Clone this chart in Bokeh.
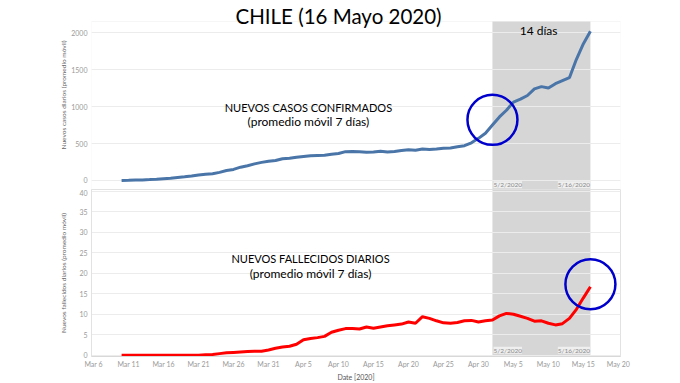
import pandas as pd
from bokeh.plotting import figure
from bokeh.models import Range1d, FixedTicker, BoxAnnotation, Label
from bokeh.layouts import column
from bokeh.embed import file_html
from bokeh.resources import INLINE

# ---------------- data ----------------
first_date = "2020-03-10"
last_date = "2020-05-16"
dates = pd.date_range(first_date, last_date, freq="D")

cases = [0, 2, 5, 8, 12, 18, 25, 30, 40, 50,
         62, 75, 85, 92, 110, 135, 150, 180, 200, 225,
         245, 260, 270, 295, 300, 315, 325, 335, 338, 340,
         355, 365, 390, 392, 388, 382, 385, 395, 385, 392,
         405, 415, 410, 425, 420, 425, 435, 440, 455, 470,
         510, 570, 640, 750, 860, 950, 1060, 1100, 1150, 1240,
         1270, 1250, 1310, 1350, 1390, 1640, 1850, 2020]

deaths = [0, 0, 0, 0, 0, 0, 0, 0, 0, 0,
          0, 0, 0.1, 0.2, 0.4, 0.6, 0.7, 0.8, 0.9, 1.0,
          1.0, 1.3, 1.7, 2.0, 2.2, 2.7, 3.8, 4.1, 4.3, 4.6,
          5.6, 6.1, 6.5, 6.5, 6.4, 6.9, 6.6, 6.9, 7.2, 7.4,
          7.6, 8.1, 7.8, 9.4, 9.0, 8.4, 7.9, 7.8, 8.0, 8.4,
          8.5, 8.1, 8.4, 8.6, 9.6, 10.2, 10.0, 9.5, 9.0, 8.3,
          8.4, 7.8, 7.4, 7.7, 9.0, 11.2, 14.0, 16.7]

tick_labels = ["Mar 6", "Mar 11", "Mar 16", "Mar 21", "Mar 26", "Mar 31",
               "Apr 5", "Apr 10", "Apr 15", "Apr 20", "Apr 25", "Apr 30",
               "May 5", "May 10", "May 15", "May 20"]
tick_dates = pd.date_range("2020-03-06", "2020-05-20", freq="5D")

case_ticks = [0, 500, 1000, 1500, 2000]
death_ticks = [0, 5, 10, 15, 20, 25, 30, 35, 40]
case_panel = (-122, 2151)       # visible value span of the cases panel

window_start = "2020-05-02"
window_end = "2020-05-16"
window_labels = ["5/2/2020", "5/16/2020"]

circle_cases_date, circle_cases_value = ["2020-05-02"], [820]
circle_deaths_date, circle_deaths_value = ["2020-05-16"], [17.3]

origin = pd.Timestamp("2020-03-06")


def day(d):
    return float((pd.Timestamp(d) - origin).days)


x_days = [day(d) for d in dates]
tick_days = [int(day(d)) for d in tick_dates]

FONT = "Lato"
BLUE = "#4a75a8"
RED = "#ff0000"
CIRCLE = "#0000cc"
SHADE = "#d6d6d6"
GRID = "#ececec"
TICKC = "#9a9a9a"
EDGE = "#e2e2e2"

x_lo, x_hi = -0.3, 75.3
x_range = Range1d(x_lo, x_hi)


def style_y(p, ticks, label, label_standoff):
    ax = p.yaxis[0]
    ax.ticker = FixedTicker(ticks=ticks)
    ax.axis_label = label
    ax.axis_label_text_font = FONT
    ax.axis_label_text_font_size = "6.5px"
    ax.axis_label_text_font_style = "normal"
    ax.axis_label_text_color = "#666666"
    ax.axis_label_standoff = label_standoff
    ax.major_label_text_font = FONT
    ax.major_label_text_font_size = "7px"
    ax.major_label_text_color = TICKC
    ax.major_label_standoff = 4
    ax.major_tick_out = 0
    ax.major_tick_in = 0
    ax.minor_tick_out = 0
    ax.minor_tick_in = 0
    ax.axis_line_color = EDGE
    p.ygrid.ticker = FixedTicker(ticks=ticks)
    p.ygrid.grid_line_color = GRID
    p.ygrid.level = "underlay"
    p.outline_line_color = EDGE
    p.background_fill_color = "white"


def text(p, x, y, t, size, color="black", align="center", font=FONT):
    p.add_layout(Label(x=x, y=y, text=t, text_align=align, text_baseline="middle",
                       text_font=font, text_font_size=size, text_color=color,
                       level="overlay"))


# ---------------- top panel (frame reaches the top so the title sits inside) ----------------
p1 = figure(width=680, height=189, x_range=x_range, y_range=Range1d(-122, 2435),
            output_backend="svg", toolbar_location=None, x_axis_location=None,
            title=None,
            min_border_left=91, min_border_right=60, min_border_top=0,
            min_border_bottom=0)
style_y(p1, case_ticks, "Nuevos casos diarios (promedio móvil)", 1)
p1.xgrid.visible = False
p1.outline_line_color = None
p1.yaxis[0].axis_line_color = None

p1.add_layout(BoxAnnotation(left=day(window_start), right=day(window_end),
                            bottom=case_panel[0], top=case_panel[1],
                            fill_color=SHADE, fill_alpha=1, line_color=None,
                            level="image"))
p1.add_layout(BoxAnnotation(left=x_lo, right=x_hi, bottom=case_panel[0], top=case_panel[1],
                            fill_color=None, line_color=EDGE, line_width=1,
                            level="underlay"))
p1.line(x_days, cases, line_color=BLUE, line_width=3)
p1.scatter([day(d) for d in circle_cases_date], circle_cases_value, size=50,
           fill_color=None, line_color=CIRCLE, line_width=2.5)

text(p1, 35, 2232, "CHILE (16 Mayo 2020)", "20.5px")
text(p1, -4.86, 2288, "Chile", "11px", color="#808080", align="left")
text(p1, 63.6, 2030, "14 días", "12px")
text(p1, 30.7, 988, "NUEVOS CASOS CONFIRMADOS", "11px")
text(p1, 30.7, 798, "(promedio móvil 7 días)", "12px")
for d, t, a in [(day(window_start) + 0.15, window_labels[0], "left"),
                (day(window_end) - 0.05, window_labels[1], "right")]:
    p1.add_layout(Label(x=d, y=-58, text=t, text_align=a, text_baseline="middle",
                        text_font=FONT, text_font_size="6.5px", text_color="#8a8a8a",
                        background_fill_color="#f2f2f2", background_fill_alpha=0.9))

# ---------------- bottom panel ----------------
p2 = figure(width=680, height=194, x_range=x_range, y_range=Range1d(-0.3, 40.4),
            output_backend="svg", toolbar_location=None,
            min_border_left=91, min_border_right=60, min_border_top=0,
            min_border_bottom=27)
style_y(p2, death_ticks, "Nuevos fallecidos diarios (promedio móvil)", 9)
p2.xgrid.visible = False
xa = p2.xaxis[0]
xa.ticker = FixedTicker(ticks=tick_days)
xa.major_label_overrides = dict(zip(tick_days, tick_labels))
xa.major_label_text_font = FONT
xa.major_label_text_font_size = "7px"
xa.major_label_text_color = TICKC
xa.major_label_standoff = 3
xa.major_tick_out = 0
xa.major_tick_in = 0
xa.minor_tick_out = 0
xa.minor_tick_in = 0
xa.axis_line_color = "#d8d8d8"
xa.axis_label = "Date [2020]"
xa.axis_label_text_font = FONT
xa.axis_label_text_font_size = "7px"
xa.axis_label_text_font_style = "normal"
xa.axis_label_text_color = "#555555"
xa.axis_label_standoff = 2

p2.add_layout(BoxAnnotation(left=day(window_start), right=day(window_end),
                            fill_color=SHADE, fill_alpha=1, line_color=None,
                            level="image"))
p2.line(x_days, deaths, line_color=RED, line_width=3)
p2.scatter([day(d) for d in circle_deaths_date], circle_deaths_value, size=50,
           fill_color=None, line_color=CIRCLE, line_width=2.5)

text(p2, 31, 23.7, "NUEVOS FALLECIDOS DIARIOS", "11px")
text(p2, 31, 19.9, "(promedio móvil 7 días)", "12px")
for d, t, a in [(day(window_start) + 0.15, window_labels[0], "left"),
                (day(window_end) - 0.05, window_labels[1], "right")]:
    p2.add_layout(Label(x=d, y=1.2, text=t, text_align=a, text_baseline="middle",
                        text_font=FONT, text_font_size="6.5px", text_color="#8a8a8a",
                        background_fill_color="#f2f2f2", background_fill_alpha=0.9))
text(p2, 82.9, -4.2, "@elaval", "12.5px", align="right")

layout = column(p1, p2, spacing=0)
open("out.html", "w").write(file_html(layout, INLINE))
